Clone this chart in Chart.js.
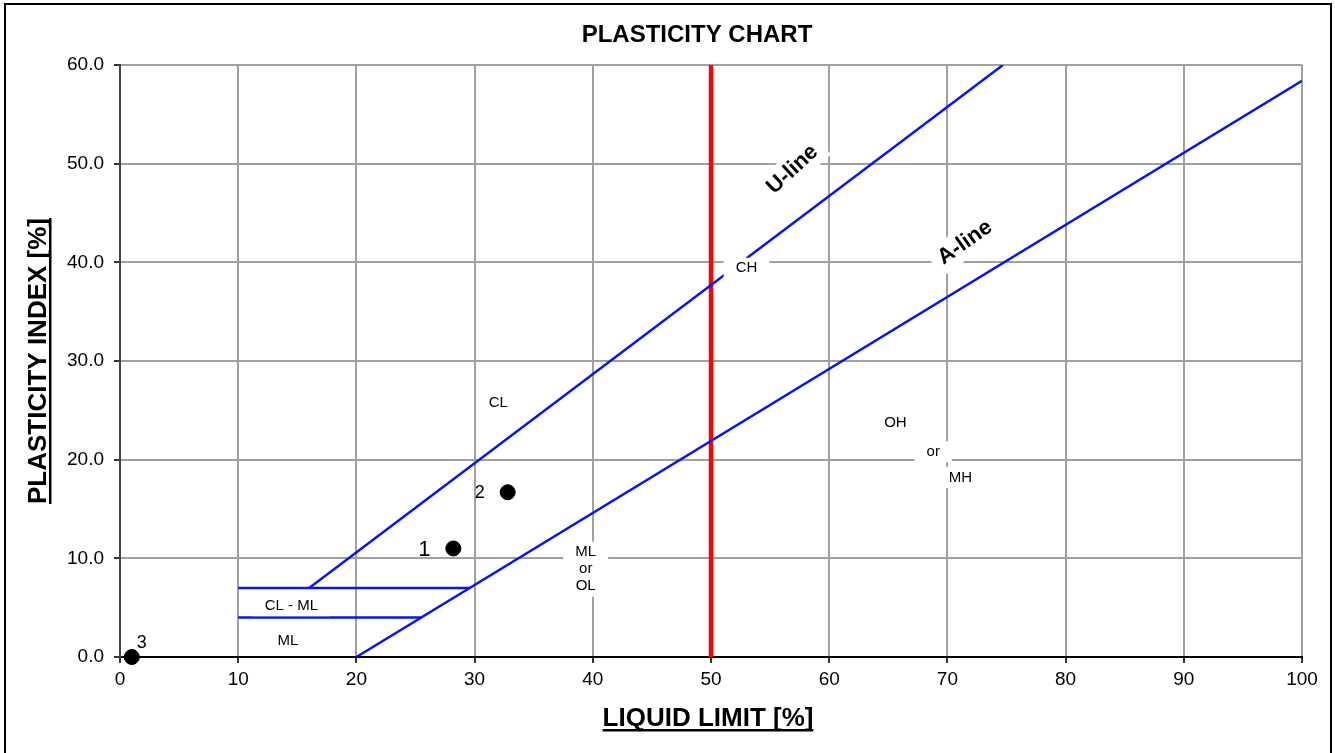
<!DOCTYPE html>
<html>
<head>
<meta charset="utf-8">
<title>Plasticity chart</title>
<script src="https://cdn.jsdelivr.net/npm/chart.js@4.4.1/dist/chart.umd.min.js"></script>
<style>
    html, body { margin: 0; padding: 0; background: #fff; }
    canvas { display: block; }
</style>
</head>
<body>
<canvas id="plasticity" width="1335" height="753"></canvas>
<script>
// samples (liquid limit / plasticity index)
const sampleIds = ["1", "2", "3"];
const sampleLL = [28.2, 32.8, 1.0];
const samplePI = [11.0, 16.7, 0.0];

// classification lines
const aLineLL = [20, 100];
const aLinePI = [0, 58.4];
const uLineLL = [16, 74.7];
const uLinePI = [7, 60];
const clmlTopLL = [10, 29.6];
const clmlTopPI = [7, 7];
const clmlLowLL = [10, 25.5];
const clmlLowPI = [4, 4];
const limitLL = [50, 50];
const limitPI = [0, 60];

// axes
const xTicks = [0, 10, 20, 30, 40, 50, 60, 70, 80, 90, 100];
const yTicks = [0, 10, 20, 30, 40, 50, 60];

const FONT = "'Liberation Sans', Arial, sans-serif";

function pairs(xs, ys) {
    return xs.map(function (x, i) { return { x: x, y: ys[i] }; });
}

function lineSet(xs, ys, color, width) {
    return {
        type: "scatter",
        data: pairs(xs, ys),
        showLine: true,
        borderColor: color,
        borderWidth: width,
        pointRadius: 0,
        pointHoverRadius: 0,
        fill: false,
    };
}

// zone texts, placed in data units
const zoneLabels = [
    { text: ["CH"], x: 53.0, y: 39.4 },
    { text: ["CL"], x: 32.0, y: 25.8 },
    { text: ["OH"], x: 65.6, y: 23.7 },
    { text: ["or"], x: 68.8, y: 20.8 },
    { text: ["MH"], x: 71.1, y: 18.2 },
    { text: ["ML", "or", "OL"], x: 39.4, y: 8.9 },
    { text: ["CL - ML"], x: 14.5, y: 5.2 },
    { text: ["ML"], x: 14.2, y: 1.6 },
];

const chartDecor = {
    id: "chartDecor",
    beforeDraw(chart) {
        const ctx = chart.ctx;
        ctx.save();
        ctx.fillStyle = "#fff";
        ctx.fillRect(0, 0, chart.width, chart.height);
        ctx.restore();
    },
    afterDatasetsDraw(chart) {
        const ctx = chart.ctx;
        const xs = chart.scales.x;
        const ys = chart.scales.y;
        ctx.save();

        // zone labels with white boxes
        ctx.font = "15px " + FONT;
        ctx.textAlign = "center";
        ctx.textBaseline = "middle";
        zoneLabels.forEach(function (z) {
            const px = xs.getPixelForValue(z.x);
            const py = ys.getPixelForValue(z.y);
            const lh = 17;
            let w = 0;
            z.text.forEach(function (t) { w = Math.max(w, ctx.measureText(t).width); });
            const h = lh * z.text.length;
            ctx.fillStyle = "#fff";
            ctx.fillRect(px - w / 2 - 12, py - h / 2 - 2, w + 24, h + 4);
            ctx.fillStyle = "#000";
            z.text.forEach(function (t, i) {
                ctx.fillText(t, px, py - h / 2 + lh / 2 + i * lh);
            });
        });

        // rotated line names
        function lineName(text, lx, ly, deg) {
            ctx.save();
            ctx.translate(xs.getPixelForValue(lx), ys.getPixelForValue(ly));
            ctx.rotate(-deg * Math.PI / 180);
            ctx.font = "bold 22px " + FONT;
            const w = ctx.measureText(text).width;
            ctx.fillStyle = "#fff";
            ctx.fillRect(-w / 2 - 8, -15, w + 16, 30);
            ctx.fillStyle = "#000";
            ctx.textAlign = "center";
            ctx.textBaseline = "middle";
            ctx.fillText(text, 0, 0);
            ctx.restore();
        }
        lineName("U-line", 56.9, 49.4, 43);
        lineName("A-line", 71.5, 42.0, 35);

        // sample numbers
        const meta = chart.getDatasetMeta(0);
        const offsets = [[-29, 1, 22], [-28, 1, 18], [10, -14, 18]];
        meta.data.forEach(function (pt, i) {
            const o = offsets[i];
            ctx.font = o[2] + "px " + FONT;
            ctx.fillStyle = "#000";
            ctx.textAlign = "center";
            ctx.textBaseline = "middle";
            ctx.fillText(sampleIds[i], pt.x + o[0], pt.y + o[1]);
        });
        ctx.restore();
    },
    afterDraw(chart) {
        const ctx = chart.ctx;
        const area = chart.chartArea;
        ctx.save();
        ctx.fillStyle = "#000";

        // title
        ctx.font = "bold 24px " + FONT;
        ctx.textAlign = "center";
        ctx.textBaseline = "alphabetic";
        ctx.fillText("PLASTICITY CHART", 697, 42);

        // x axis title, underlined
        ctx.font = "bold 26px " + FONT;
        const xt = "LIQUID LIMIT [%]";
        const xcx = (area.left + area.right) / 2 - 3;
        ctx.fillText(xt, xcx, 726);
        const xw = ctx.measureText(xt).width;
        ctx.fillRect(xcx - xw / 2, 729, xw, 2.5);

        // y axis title, underlined
        ctx.translate(46, (area.top + area.bottom) / 2);
        ctx.rotate(-Math.PI / 2);
        const yt = "PLASTICITY INDEX [%]";
        ctx.fillText(yt, 0, 0);
        const yw = ctx.measureText(yt).width;
        ctx.fillRect(-yw / 2, 3, yw, 2.5);
        ctx.restore();

        // outer frame
        ctx.save();
        ctx.strokeStyle = "#000";
        ctx.lineWidth = 2;
        ctx.strokeRect(5, 4, 1326, 770);
        ctx.restore();
    },
};

const ctxEl = document.getElementById("plasticity");
const plasticityChart = new Chart(ctxEl, {
    type: "scatter",
    data: {
        datasets: [
            {
                data: pairs(sampleLL, samplePI),
                backgroundColor: "#000",
                borderColor: "#000",
                pointRadius: 7.5,
                pointHoverRadius: 7.5,
                clip: false,
                order: 0,
            },
            lineSet(uLineLL, uLinePI, "#0a14f0", 2.5),
            lineSet(aLineLL, aLinePI, "#0a14f0", 2.5),
            lineSet(clmlTopLL, clmlTopPI, "#0a14f0", 2.5),
            lineSet(clmlLowLL, clmlLowPI, "#0a14f0", 2.5),
            lineSet(limitLL, limitPI, "#ff0000", 4.5),
        ],
    },
    options: {
        responsive: false,
        animation: false,
        layout: { padding: { top: 65, right: 33, left: 0, bottom: 0 } },
        plugins: {
            legend: { display: false },
            tooltip: { enabled: false },
            title: { display: false },
        },
        scales: {
            x: {
                type: "linear",
                min: 0,
                max: 100,
                afterFit: function (scale) { scale.height = 96; },
                afterBuildTicks: function (scale) {
                    scale.ticks = xTicks.map(function (v) { return { value: v }; });
                },
                ticks: {
                    color: "#000",
                    font: { family: FONT, size: 19 },
                    padding: 5,
                    maxRotation: 0,
                },
                grid: {
                    color: "#a0a0a0",
                    lineWidth: 2,
                    tickColor: "#333",
                    tickLength: 6,
                },
                border: { color: "#000", width: 2 },
            },
            y: {
                type: "linear",
                min: 0,
                max: 60,
                afterFit: function (scale) { scale.width = 120; },
                afterBuildTicks: function (scale) {
                    scale.ticks = yTicks.map(function (v) { return { value: v }; });
                },
                ticks: {
                    color: "#000",
                    font: { family: FONT, size: 19 },
                    padding: 10,
                    callback: function (v) { return Number(v).toFixed(1); },
                },
                grid: {
                    color: "#a0a0a0",
                    lineWidth: 2,
                    tickColor: "#333",
                    tickLength: 6,
                },
                border: { color: "#444", width: 2 },
            },
        },
    },
    plugins: [chartDecor],
});
</script>
</body>
</html>
